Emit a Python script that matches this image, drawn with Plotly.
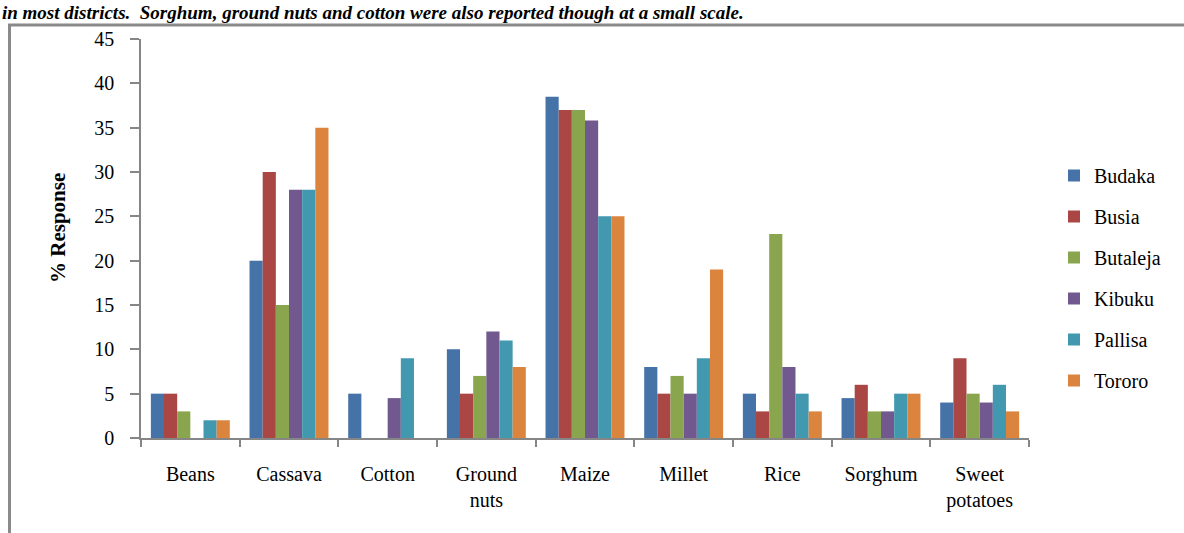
import plotly.graph_objects as go

# Crops grown, by district (% of respondents)
crops = ["Beans", "Cassava", "Cotton", "Ground<br>nuts", "Maize", "Millet",
         "Rice", "Sorghum", "Sweet<br>potatoes"]

districts = ["Budaka", "Busia", "Butaleja", "Kibuku", "Pallisa", "Tororo"]

budaka = [5, 20, 5, 10, 38.5, 8, 5, 4.5, 4]
busia = [5, 30, 0, 5, 37, 5, 3, 6, 9]
butaleja = [3, 15, 0, 7, 37, 7, 23, 3, 5]
kibuku = [0, 28, 4.5, 12, 35.8, 5, 8, 3, 4]
pallisa = [2, 28, 9, 11, 25, 9, 5, 5, 6]
tororo = [2, 35, 0, 8, 25, 19, 3, 5, 3]

series = [budaka, busia, butaleja, kibuku, pallisa, tororo]
colors = ["#4572A7", "#AA4643", "#89A54E", "#71588F", "#4198AF", "#DB843D"]

y_ticks = [0, 5, 10, 15, 20, 25, 30, 35, 40, 45]

FONT = "Liberation Serif, Times New Roman, serif"
AXIS_GREY = "#868686"

fig = go.Figure()
for name, vals, col in zip(districts, series, colors):
    fig.add_trace(go.Bar(
        name=name, x=crops, y=vals, marker=dict(color=col, line=dict(width=0)),
        legendgroup=name,
    ))

# plot area in pixels: x 141..1029, y 39..438
W, H = 1184, 533
L, R, T, B = 141, 155, 39, 95
pw, ph = W - L - R, H - T - B


def px(x):
    return (x - L) / pw


def py(y):
    return (H - B - y) / ph


fig.update_layout(
    width=W, height=H,
    margin=dict(l=L, r=R, t=T, b=B),
    paper_bgcolor="white", plot_bgcolor="white",
    barmode="group", bargap=0.2, bargroupgap=0,
    font=dict(family=FONT, size=20, color="black"),
    showlegend=True,
    legend=dict(
        x=px(1054), y=py(156), xanchor="left", yanchor="top",
        font=dict(family=FONT, size=20, color="black"),
        tracegroupgap=12, itemclick=False, bgcolor="rgba(0,0,0,0)",
    ),
    xaxis=dict(
        showline=True, linecolor=AXIS_GREY, linewidth=1.5,
        ticks="outside", ticklen=7, tickcolor=AXIS_GREY, tickwidth=1.5,
        tickson="boundaries", showgrid=False, zeroline=False,
        tickfont=dict(family=FONT, size=20, color="black"),
        ticklabelstandoff=17,
    ),
    yaxis=dict(
        range=[0, 45], tickvals=y_ticks, showline=True, linecolor=AXIS_GREY,
        linewidth=1.5, ticks="outside", ticklen=9, tickcolor=AXIS_GREY,
        tickwidth=1.5, showgrid=False, zeroline=False,
        tickfont=dict(family=FONT, size=20, color="black"),
        ticklabelstandoff=12,
    ),
)

# y-axis title
fig.add_annotation(
    text="<b>% Response</b>", textangle=-90, xref="paper", yref="paper",
    x=px(58), y=py(228), xanchor="center", yanchor="middle", showarrow=False,
    font=dict(family=FONT, size=21, color="black"),
)

# running text of the page above the figure box
fig.add_annotation(
    text="<b><i>in most districts.  Sorghum, ground nuts and cotton were also "
         "reported though at a small scale.</i></b>",
    xref="paper", yref="paper", x=px(0), y=py(0), xanchor="left",
    yanchor="top", showarrow=False,
    font=dict(family=FONT, size=19, color="black"),
)

# grey frame around the chart box (left and top edges)
fig.add_shape(
    type="path", xref="paper", yref="paper",
    path=f"M {px(9.5)} {py(540)} L {px(9.5)} {py(25)} L {px(1190)} {py(25)}",
    line=dict(color="#8a8a8a", width=3),
)

fig.write_html("out.html")
